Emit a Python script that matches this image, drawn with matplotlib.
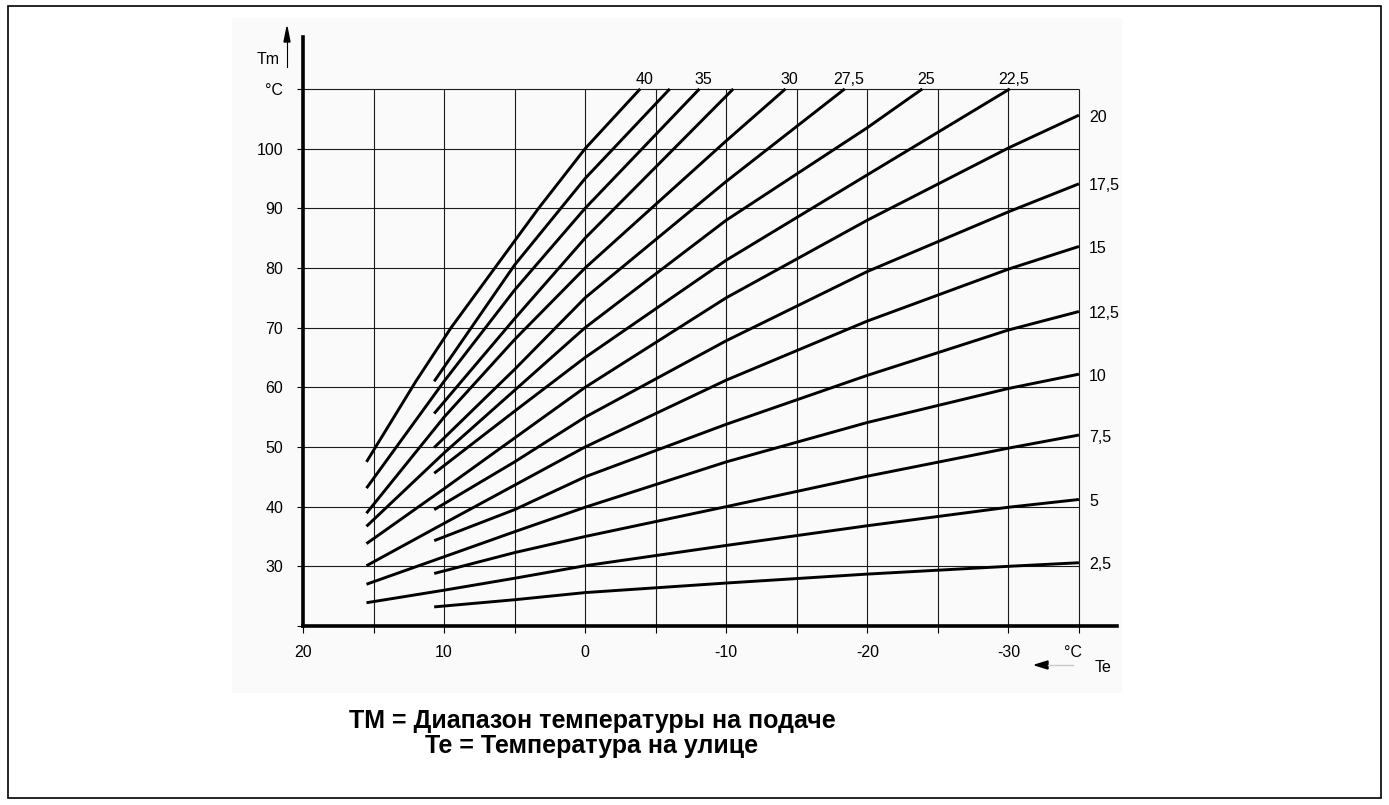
import matplotlib
matplotlib.use("Agg")
import matplotlib.pyplot as plt
from matplotlib.patches import Rectangle, Polygon

plt.rcParams['font.family'] = ['Liberation Sans', 'DejaVu Sans']

# heating curves: outdoor temperature Te -> flow temperature Tm
slopes = [2.5, 5, 7.5, 10, 12.5, 15, 17.5, 20, 22.5, 25, 27.5, 30, 32.5, 35, 37.5, 40]
curve_te = [
    [10.7, 5, 0, -10, -20, -30, -35],
    [15.5, 10, 5, 0, -10, -20, -30, -35],
    [10.7, 5, 0, -10, -20, -30, -35],
    [15.5, 10, 5, 0, -10, -20, -30, -35],
    [10.7, 5, 0, -10, -20, -30, -35],
    [15.5, 10, 5, 0, -10, -20, -30, -35],
    [10.7, 5, 0, -10, -20, -30, -35],
    [15.5, 10, 5, 0, -10, -20, -30, -35],
    [10.7, 5, 0, -10, -20, -30.1],
    [15.5, 10, 5, 0, -10, -20, -23.9],
    [10.7, 5, 0, -10, -18.4],
    [15.5, 10, 5, 0, -10, -14.2],
    [10.7, 5, 0, -10.5],
    [15.5, 10, 5, 0, -8.1],
    [10.7, 5, 0, -6.0],
    [15.5, 12.0, 9.5, 6.4, 3.3, 0, -3.9],
]
curve_tm = [
    [23.2, 24.4, 25.6, 27.2, 28.7, 30.0, 30.6],
    [23.9, 26.0, 28.0, 30.1, 33.5, 36.8, 39.9, 41.2],
    [28.8, 32.3, 35.0, 40.0, 45.1, 49.8, 52.0],
    [27.0, 31.6, 35.8, 39.9, 47.5, 54.1, 59.8, 62.2],
    [34.3, 39.5, 45.0, 53.8, 62.0, 69.6, 72.7],
    [30.1, 37.2, 43.6, 50.0, 61.2, 71.1, 79.8, 83.6],
    [39.5, 47.5, 55.0, 67.8, 79.4, 89.4, 94.1],
    [33.8, 43.0, 51.5, 60.0, 75.0, 88.0, 100.1, 105.6],
    [45.6, 56.0, 65.0, 81.3, 95.6, 110],
    [36.7, 49.0, 59.5, 70.0, 88.0, 103.5, 110],
    [49.9, 63.0, 75.0, 94.5, 110],
    [38.9, 55.0, 68.0, 80.0, 101.3, 110],
    [55.6, 71.5, 85.0, 110],
    [43.1, 61.0, 76.3, 90.0, 110],
    [61.0, 80.5, 95.0, 110],
    [47.5, 61.0, 70.0, 80.0, 90.0, 100.0, 110],
]
right_labels = ["2,5", "5", "7,5", "10", "12,5", "15", "17,5", "20"]
top_labels = {22.5: "22,5", 25: "25", 27.5: "27,5", 30: "30", 35: "35", 40: "40"}

x_ticks = [20, 15, 10, 5, 0, -5, -10, -15, -20, -25, -30, -35]
x_ticklabels = ["20", "", "10", "", "0", "", "-10", "", "-20", "", "-30", ""]
y_ticks = [20, 30, 40, 50, 60, 70, 80, 90, 100, 110]
y_ticklabels = ["", "30", "40", "50", "60", "70", "80", "90", "100", "°C"]

W, H = 1389, 805
fig = plt.figure(figsize=(W / 100, H / 100), dpi=100)


def fx(px):
    return px / W


def fy(py):
    return 1 - py / H


# scanned area background and outer frame
fig.patches.append(Rectangle((fx(232), fy(693)), fx(1122) - fx(232), fy(18) - fy(693),
                             transform=fig.transFigure, facecolor="#fafafa", edgecolor="none", zorder=-10))
fig.patches.append(Rectangle((fx(8), fy(798)), fx(1381) - fx(8), fy(6) - fy(798),
                             transform=fig.transFigure, facecolor="none", edgecolor="black", lw=1.2, zorder=-9))

ax = fig.add_axes([fx(303), fy(626), fx(1117) - fx(303), fy(37) - fy(626)])
ax.set_facecolor("none")
ax.set_xlim(20, -37.7)
ax.set_ylim(20, 118.7)

for s in ["top", "right"]:
    ax.spines[s].set_visible(False)
for s in ["left", "bottom"]:
    ax.spines[s].set_linewidth(2.6)

ax.hlines(y_ticks[1:], 20, -35, color="#1a1a1a", lw=0.8, zorder=1)
ax.vlines(x_ticks[1:], 20, 110, color="#1a1a1a", lw=0.8, zorder=1)

ax.set_xticks(x_ticks)
ax.set_xticklabels(x_ticklabels)
ax.set_yticks(y_ticks)
ax.set_yticklabels(y_ticklabels)
ax.tick_params(axis="x", length=5, width=0.8, pad=9, labelsize=11.5)
ax.tick_params(axis="y", length=4.3, width=0.8, pad=10, labelsize=11.5)

for k, s in enumerate(slopes):
    ax.plot(curve_te[k], curve_tm[k], color="black", lw=2.1, solid_capstyle="butt",
            solid_joinstyle="round", zorder=3)
    if s in top_labels:
        ax.annotate(top_labels[s], (curve_te[k][-1], curve_tm[k][-1]), xytext=(4, 9),
                    textcoords="offset pixels", ha="center", va="center", fontsize=11.5)

for k, lab in enumerate(right_labels):
    ax.annotate(lab, (curve_te[k][-1], curve_tm[k][-1]), xytext=(10, -2),
                textcoords="offset pixels", ha="left", va="center", fontsize=11.5)

# axis names with arrows
fig.text(fx(268), fy(59), "Tm", ha="center", va="center", fontsize=11.5)
fig.add_artist(plt.Line2D([fx(287), fx(287)], [fy(67), fy(40)], transform=fig.transFigure, color="black", lw=0.8))
fig.patches.append(Polygon([[fx(284), fy(42)], [fx(290), fy(42)], [fx(287), fy(27)]],
                           closed=True, transform=fig.transFigure, color="black"))
fig.text(fx(1073), fy(652), "°C", ha="center", va="center", fontsize=11.5)
fig.text(fx(1103), fy(667), "Te", ha="center", va="center", fontsize=11.5)
fig.add_artist(plt.Line2D([fx(1048), fx(1073)], [fy(665), fy(665)], transform=fig.transFigure, color="#c8c8c8", lw=1.0))
fig.patches.append(Polygon([[fx(1048), fy(661)], [fx(1048), fy(669)], [fx(1035), fy(665)]],
                           closed=True, transform=fig.transFigure, color="black"))

fig.text(fx(592), fy(721), "TM = Диапазон температуры на подаче", ha="center", va="center",
         fontsize=18, fontweight="bold")
fig.text(fx(592), fy(746), "Te = Температура на улице", ha="center", va="center",
         fontsize=18, fontweight="bold")

fig.savefig("out.png", dpi=100)
